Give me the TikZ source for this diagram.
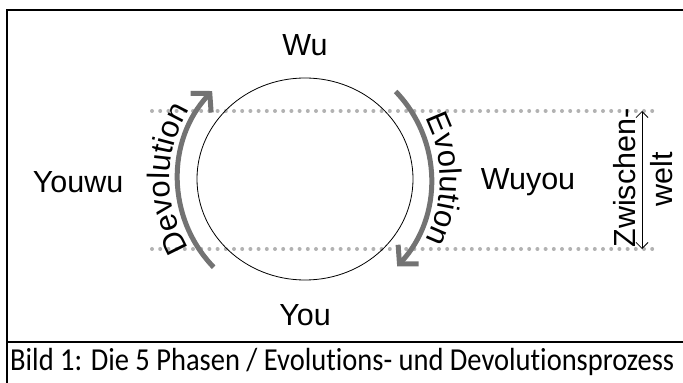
\documentclass[tikz,border=0pt]{standalone}
\usepackage{fontspec}
\setmainfont{Liberation Sans}
\newfontfamily\capfont[Ligatures={NoCommon,NoRare}]{Carlito}
\usetikzlibrary{arrows.meta,decorations.text}
\newcommand\arcfont{\fontsize{31}{33}\selectfont}
\begin{document}
\begin{tikzpicture}[x=1pt,y=1pt,
  frame/.style={line width=2.4pt,black},
  lbl/.style={font=\fontsize{30.5}{32}\selectfont, inner sep=0pt},
  dots/.style={draw=black!30,line width=4pt,line cap=round,dash pattern=on 0pt off 8.2pt},
  flow/.style={draw=black!55,line width=5pt,-{Straight Barb[length=13pt,width=28pt]}},
  dbl/.style={line width=0.8pt,{Straight Barb[length=6pt,width=12pt]}-{Straight Barb[length=6pt,width=12pt]}}]
\useasboundingbox (0,0) rectangle (683,383);
% frame
\draw[frame] (7,-5) -- (7,373) -- (690,373);
\draw[frame] (7,41) -- (690,41);
% dotted lines
\draw[dots] (152,272) -- (657,272);
\draw[dots] (152,134) -- (657,134);
% circle
\coordinate (c) at (305,204);
\draw[line width=0.8pt] (c) ellipse[x radius=108,y radius=101];
% arrows
\draw[flow] (c) ++(44:126) arc[start angle=44,end angle=-43,radius=127];
\draw[flow] (c) ++(224:127) arc[start angle=224,end angle=137,radius=128];
% curved texts
\path[decorate,decoration={text along path,text align=center,text={|\arcfont|Evolution}}]
  (c) ++(70:135) arc[start angle=70,end angle=-70,radius=135];
\path[decorate,decoration={text along path,text align=center,text={|\arcfont|Devolution}}]
  (c) ++(250:135) arc[start angle=250,end angle=110,radius=135];
% labels
\node[lbl] (wu) at (305,338) {Wu};
\node[lbl] (you) at (305,68) {You};
\node[lbl] (youwu) at (78,201) {Youwu};
\node[lbl] (wuyou) at (528,201) {Wuyou};
\node[lbl,rotate=90] (zw) at (625,205) {Zwischen-};
\node[lbl,rotate=90] (welt) at (662,204) {welt};
\coordinate (zt) at (642,272);
\coordinate (zb) at (642,134);
\draw[dbl] (zb) -- (zt);
% caption
\node[anchor=west,inner sep=0pt] (cap) at (10,21) {\capfont\fontsize{32}{34}\selectfont\resizebox{664pt}{\height}{Bild 1: Die 5 Phasen / Evolutions- und Devolutionsprozess}};
\end{tikzpicture}
\end{document}
